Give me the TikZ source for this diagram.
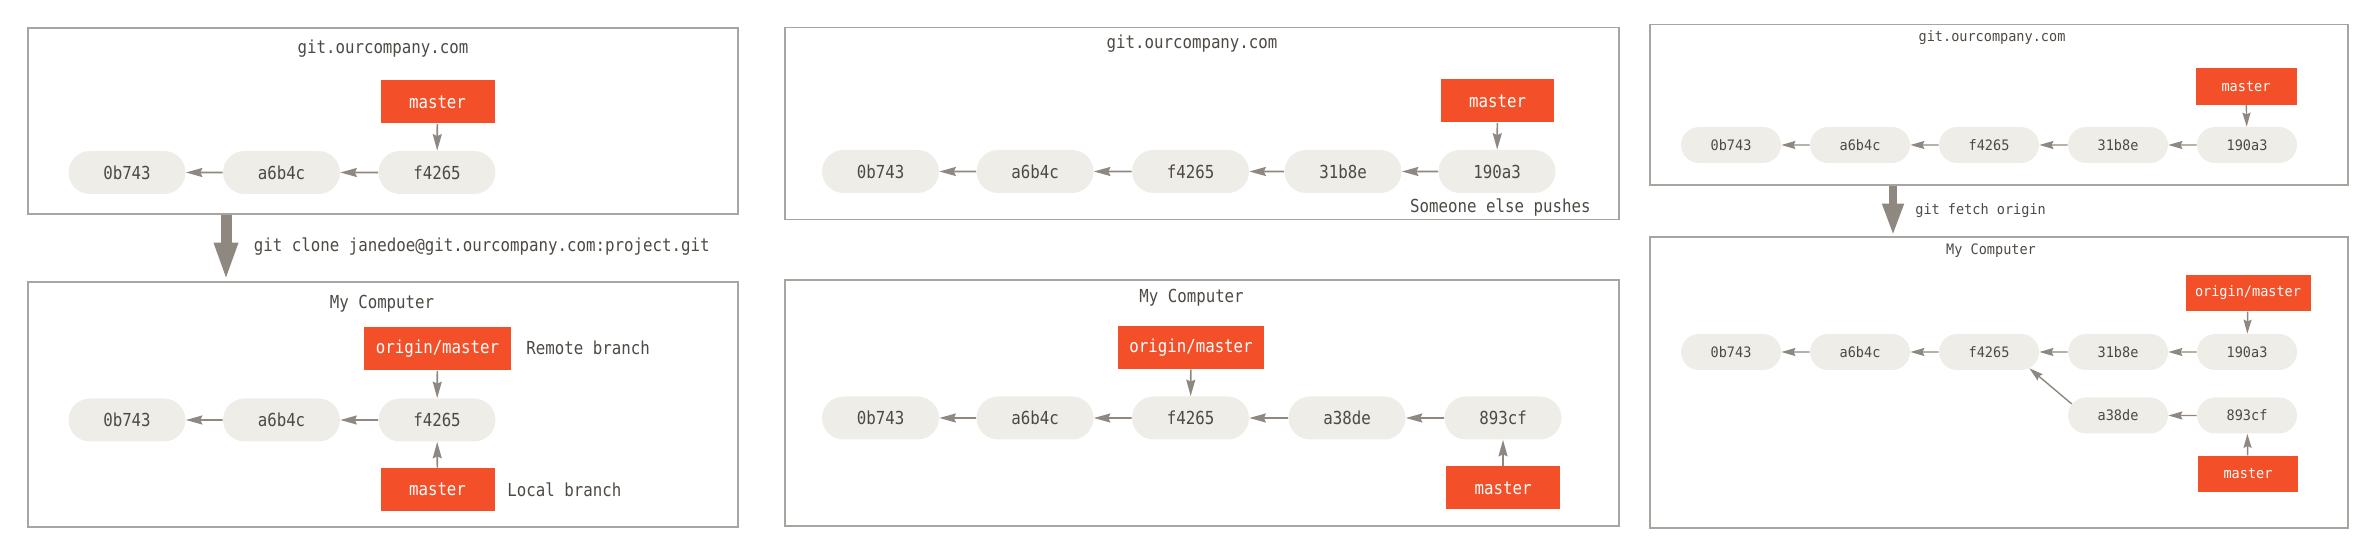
\documentclass[tikz,border=0pt]{standalone}
\usepackage{fontspec}
\usepackage{xcolor}
\usetikzlibrary{shapes,arrows,positioning,arrows.meta}
\newfontfamily\gitmono[FakeStretch=0.88]{DejaVu Sans Mono}
\newfontfamily\gitmonosmall[FakeStretch=0.94]{DejaVu Sans Mono}
\definecolor{gitred}{RGB}{243,79,41}
\definecolor{commitfill}{RGB}{238,237,231}
\definecolor{gittext}{RGB}{78,73,68}
\definecolor{linkgray}{RGB}{142,136,128}
\definecolor{framegray}{RGB}{168,165,160}

\tikzset{
    repobox/.style={rectangle, draw=framegray, line width=1pt, inner sep=0pt},
    bigfont/.style={font=\gitmono\fontsize{10.2}{12}\selectfont},
    smallfont/.style={font=\gitmonosmall\fontsize{8.2}{10}\selectfont},
    note/.style={text=gittext, inner sep=0pt},
    commit/.style={rounded rectangle, fill=commitfill, text=gittext, minimum width=2.34cm, minimum height=0.86cm, inner sep=0pt, bigfont},
    smallcommit/.style={rounded rectangle, fill=commitfill, text=gittext, minimum width=2.00cm, minimum height=0.72cm, inner sep=0pt, smallfont},
    branch/.style={rectangle, fill=gitred, text=white, minimum height=0.86cm, inner sep=0pt, bigfont},
    smallbranch/.style={rectangle, fill=gitred, text=white, minimum height=0.73cm, inner sep=0pt, smallfont},
    parent/.style={draw=linkgray, line width=0.95pt, -{Stealth[length=0.33cm, width=0.18cm, inset=0.04cm]}},
    smallparent/.style={draw=linkgray, line width=0.8pt, -{Stealth[length=0.28cm, width=0.16cm, inset=0.035cm]}},
    transfer/.style={draw=linkgray, line width=0.22cm, -{Triangle[length=0.77cm, width=0.43cm]}},
    smalltransfer/.style={draw=linkgray, line width=0.165cm, -{Triangle[length=0.65cm, width=0.39cm]}}
}

\begin{document}
\begin{tikzpicture}
    \useasboundingbox (0,0) rectangle (47.32,11.06);

    \begin{scope}
        % Clone: remote server
        \node[repobox, minimum width=14.20cm, minimum height=3.72cm] (cloneserver) at (7.66,8.64) {};
        \node[note, bigfont] (cloneservername) at (7.66,10.08) {git.ourcompany.com};
        \node[commit] (cs-0b743) at (2.54,7.61) {0b743};
        \node[commit] (cs-a6b4c) at (5.63,7.61) {a6b4c};
        \node[commit] (cs-f4265) at (8.74,7.61) {f4265};
        \node[branch, minimum width=2.28cm] (cs-master) at (8.75,9.02) {master};
        \draw[parent] (cs-a6b4c) -- (cs-0b743);
        \draw[parent] (cs-f4265) -- (cs-a6b4c);
        \draw[parent] (cs-master) -- (cs-f4265);

        % Clone: my computer
        \node[repobox, minimum width=14.20cm, minimum height=4.90cm] (clonelocal) at (7.66,2.97) {};
        \node[note, bigfont] (clonelocalname) at (7.64,4.98) {My Computer};
        \node[commit] (cl-0b743) at (2.54,2.66) {0b743};
        \node[commit] (cl-a6b4c) at (5.63,2.66) {a6b4c};
        \node[commit] (cl-f4265) at (8.74,2.66) {f4265};
        \node[branch, minimum width=2.94cm] (cl-origin) at (8.75,4.08) {origin/master};
        \node[branch, minimum width=2.28cm] (cl-master) at (8.75,1.27) {master};
        \node[note, bigfont, anchor=west] (cl-remotenote) at (10.52,4.10) {Remote branch};
        \node[note, bigfont, anchor=west] (cl-localnote) at (10.14,1.26) {Local branch};
        \draw[parent] (cl-a6b4c) -- (cl-0b743);
        \draw[parent] (cl-f4265) -- (cl-a6b4c);
        \draw[parent] (cl-origin) -- (cl-f4265);
        \draw[parent] (cl-master) -- (cl-f4265);

        % Clone command
        \coordinate (clonex) at (4.52,0);
        \draw[transfer] (clonex |- cloneserver.south) -- (clonex |- clonelocal.north);
        \node[note, bigfont, anchor=west] (clonecmd) at (5.07,6.12) {git clone janedoe@git.ourcompany.com:project.git};
    \end{scope}

    \begin{scope}
        % Diverged: remote server
        \node[repobox, minimum width=16.68cm, minimum height=3.84cm] (divserver) at (24.04,8.59) {};
        \node[note, bigfont] (divservername) at (23.84,10.18) {git.ourcompany.com};
        \node[commit] (ds-0b743) at (17.61,7.63) {0b743};
        \node[commit] (ds-a6b4c) at (20.70,7.63) {a6b4c};
        \node[commit] (ds-f4265) at (23.81,7.63) {f4265};
        \node[commit] (ds-31b8e) at (26.86,7.63) {31b8e};
        \node[commit] (ds-190a3) at (29.94,7.63) {190a3};
        \node[branch, minimum width=2.27cm] (ds-master) at (29.95,9.04) {master};
        \node[note, bigfont, anchor=east] (ds-pushnote) at (31.82,6.90) {Someone else pushes};
        \draw[parent] (ds-a6b4c) -- (ds-0b743);
        \draw[parent] (ds-f4265) -- (ds-a6b4c);
        \draw[parent] (ds-31b8e) -- (ds-f4265);
        \draw[parent] (ds-190a3) -- (ds-31b8e);
        \draw[parent] (ds-master) -- (ds-190a3);

        % Diverged: my computer
        \node[repobox, minimum width=16.68cm, minimum height=4.92cm] (divlocal) at (24.04,3.00) {};
        \node[note, bigfont] (divlocalname) at (23.83,5.10) {My Computer};
        \node[commit] (dl-0b743) at (17.61,2.70) {0b743};
        \node[commit] (dl-a6b4c) at (20.70,2.70) {a6b4c};
        \node[commit] (dl-f4265) at (23.81,2.70) {f4265};
        \node[commit] (dl-a38de) at (26.94,2.70) {a38de};
        \node[commit] (dl-893cf) at (30.06,2.70) {893cf};
        \node[branch, minimum width=2.92cm] (dl-origin) at (23.82,4.11) {origin/master};
        \node[branch, minimum width=2.28cm] (dl-master) at (30.06,1.30) {master};
        \draw[parent] (dl-a6b4c) -- (dl-0b743);
        \draw[parent] (dl-f4265) -- (dl-a6b4c);
        \draw[parent] (dl-a38de) -- (dl-f4265);
        \draw[parent] (dl-893cf) -- (dl-a38de);
        \draw[parent] (dl-origin) -- (dl-f4265);
        \draw[parent] (dl-master) -- (dl-893cf);
    \end{scope}

    \begin{scope}
        % Fetch: remote server
        \node[repobox, minimum width=13.96cm, minimum height=3.21cm] (fetchserver) at (39.98,8.965) {};
        \node[note, smallfont] (fetchservername) at (39.84,10.30) {git.ourcompany.com};
        \node[smallcommit] (fs-0b743) at (34.62,8.16) {0b743};
        \node[smallcommit] (fs-a6b4c) at (37.20,8.16) {a6b4c};
        \node[smallcommit] (fs-f4265) at (39.78,8.16) {f4265};
        \node[smallcommit] (fs-31b8e) at (42.36,8.16) {31b8e};
        \node[smallcommit] (fs-190a3) at (44.94,8.16) {190a3};
        \node[smallbranch, minimum width=2.02cm] (fs-master) at (44.92,9.33) {master};
        \draw[smallparent] (fs-a6b4c) -- (fs-0b743);
        \draw[smallparent] (fs-f4265) -- (fs-a6b4c);
        \draw[smallparent] (fs-31b8e) -- (fs-f4265);
        \draw[smallparent] (fs-190a3) -- (fs-31b8e);
        \draw[smallparent] (fs-master) -- (fs-190a3);

        % Fetch: my computer
        \node[repobox, minimum width=13.96cm, minimum height=5.82cm] (fetchlocal) at (39.98,3.41) {};
        \node[note, smallfont] (fetchlocalname) at (39.82,6.04) {My Computer};
        \node[smallcommit] (fl-0b743) at (34.62,4.02) {0b743};
        \node[smallcommit] (fl-a6b4c) at (37.20,4.02) {a6b4c};
        \node[smallcommit] (fl-f4265) at (39.78,4.02) {f4265};
        \node[smallcommit] (fl-31b8e) at (42.36,4.02) {31b8e};
        \node[smallcommit] (fl-190a3) at (44.94,4.02) {190a3};
        \node[smallcommit] (fl-a38de) at (42.36,2.75) {a38de};
        \node[smallcommit] (fl-893cf) at (44.94,2.75) {893cf};
        \node[smallbranch, minimum width=2.50cm] (fl-origin) at (44.96,5.20) {origin/master};
        \node[smallbranch, minimum width=2.00cm] (fl-master) at (44.96,1.58) {master};
        \draw[smallparent] (fl-a6b4c) -- (fl-0b743);
        \draw[smallparent] (fl-f4265) -- (fl-a6b4c);
        \draw[smallparent] (fl-31b8e) -- (fl-f4265);
        \draw[smallparent] (fl-190a3) -- (fl-31b8e);
        \draw[smallparent] (fl-a38de.166) -- (fl-f4265.-22);
        \draw[smallparent] (fl-893cf) -- (fl-a38de);
        \draw[smallparent] (fl-origin) -- (fl-190a3);
        \draw[smallparent] (fl-master) -- (fl-893cf);

        % Fetch command
        \coordinate (fetchx) at (37.86,0);
        \draw[smalltransfer] (fetchx |- fetchserver.south) -- (fetchx |- fetchlocal.north);
        \node[note, smallfont, anchor=west] (fetchcmd) at (38.30,6.84) {git fetch origin};
    \end{scope}
\end{tikzpicture}
\end{document}
